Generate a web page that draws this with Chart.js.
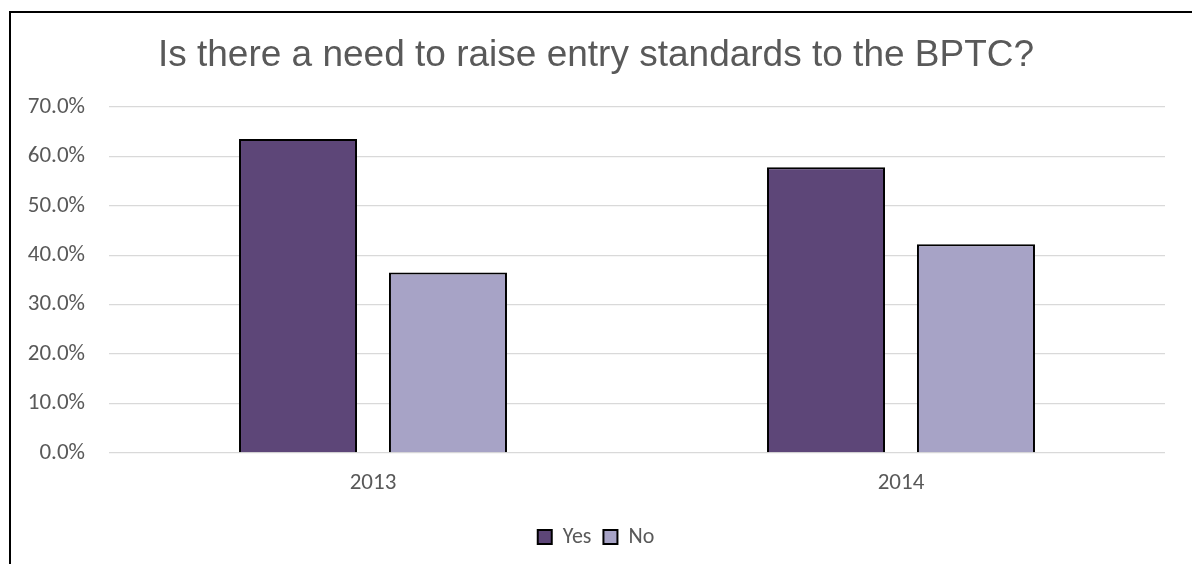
<!DOCTYPE html>
<html>
<head>
<meta charset="utf-8">
<script src="https://cdn.jsdelivr.net/npm/chart.js@4/dist/chart.umd.min.js"></script>
<style>
  html, body { margin: 0; padding: 0; background: #fff; }
  #wrap { position: relative; width: 1192px; height: 564px; overflow: hidden; }
  #marco { position: absolute; left: 9px; top: 11px; width: 1300px; height: 700px;
           border-left: 2px solid #000; border-top: 2px solid #000; box-sizing: border-box; }
  canvas { position: absolute; left: 0; top: 0; }
</style>
</head>
<body>
<div id="wrap">
  <div id="marco"></div>
  <canvas id="grafica" width="1192" height="564"></canvas>
</div>
<script>
// datos de la grafica
const anios = ['2013', '2014'];
const valoresSi = [63.5, 57.8];
const valoresNo = [36.5, 42.2];
const ticksEje = [0, 10, 20, 30, 40, 50, 60, 70];

const gris = '#595959';
const fuenteEjes = 'Carlito, Calibri, Lato, sans-serif';

const ctx = document.getElementById('grafica').getContext('2d');

new Chart(ctx, {
  type: 'bar',
  data: {
    labels: anios,
    datasets: [
      { label: 'Yes', data: valoresSi, backgroundColor: '#5d4678', borderColor: '#000', borderWidth: 2 },
      { label: 'No', data: valoresNo, backgroundColor: '#a7a3c6', borderColor: '#000', borderWidth: 2 }
    ]
  },
  options: {
    responsive: false,
    animation: false,
    categoryPercentage: 0.568,
    barPercentage: 0.787,
    layout: { padding: { left: 10, right: 10, top: 12, bottom: 6 } },
    plugins: {
      title: {
        display: true,
        text: 'Is there a need to raise entry standards to the BPTC?',
        color: gris,
        font: { family: '"Liberation Sans", Arial, sans-serif', size: 37, weight: 'normal' },
        padding: { top: 22, bottom: 28.5 }
      },
      legend: {
        position: 'bottom',
        labels: {
          color: gris,
          boxWidth: 14,
          boxHeight: 14,
          padding: 12,
          font: { family: fuenteEjes, size: 22 }
        }
      },
      tooltip: { enabled: false }
    },
    scales: {
      x: {
        afterFit: (scale) => { scale.height = 61; },
        grid: { display: false },
        border: { display: false },
        ticks: { color: gris, padding: 8, font: { family: fuenteEjes, size: 23 } }
      },
      y: {
        min: 0,
        max: 70,
        afterFit: (scale) => { scale.width = 99; },
        afterBuildTicks: (scale) => { scale.ticks = ticksEje.map(v => ({ value: v })); },
        grid: { color: '#d9d9d9', lineWidth: 1.3, drawTicks: false },
        border: { display: false },
        ticks: {
          color: gris,
          padding: 24,
          font: { family: fuenteEjes, size: 23 },
          callback: (v) => v.toFixed(1) + '%'
        }
      },
      // eje vacio a la derecha, solo para dejar el margen del area de dibujo
      margenDerecho: {
        position: 'right',
        min: 0,
        max: 70,
        afterFit: (scale) => { scale.width = 17; },
        grid: { display: false },
        border: { display: false },
        ticks: { display: false }
      }
    }
  }
});
</script>
</body>
</html>
